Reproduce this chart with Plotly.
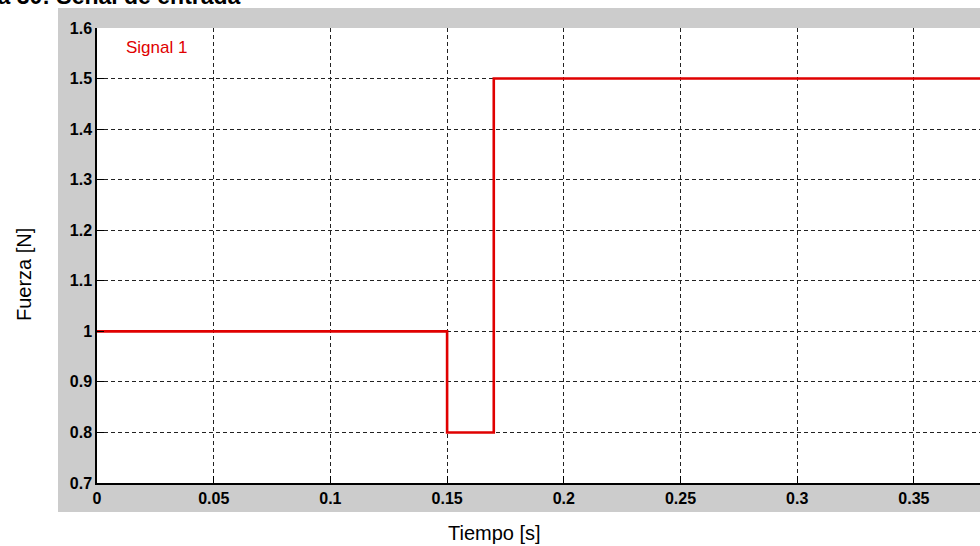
import plotly.graph_objects as go

# Data
tiempo = [0.0, 0.15, 0.17, 0.40]
fuerza = [1.0, 0.8, 1.5, 1.5]
serie_nombre = "Signal 1"
x_ticks = [0, 0.05, 0.1, 0.15, 0.2, 0.25, 0.3, 0.35]
y_ticks = [0.7, 0.8, 0.9, 1.0, 1.1, 1.2, 1.3, 1.4, 1.5, 1.6]

W, H = 980, 546
# plot area in screen pixels
SL, ST, SB, SR = 97, 28, 483, 980
L, T, B, R = SL, ST, H - SB, W - SR
PW = SR - SL
PH = SB - ST

def px_x(p):
    return (p - SL) / PW

def px_y(p):
    return (SB - p) / PH

FONT = "Liberation Sans, Arial, sans-serif"

fig = go.Figure()
fig.add_trace(go.Scatter(
    x=tiempo, y=fuerza, mode="lines", line_shape="hv",
    line=dict(color="#e00000", width=2.6), name=serie_nombre, showlegend=False,
))

axis_common = dict(
    showgrid=True, gridcolor="#222222", gridwidth=1, griddash="4px,3px",
    showline=True, linecolor="#000000", linewidth=1.5,
    ticks="inside", ticklen=7, tickcolor="#000000", tickwidth=1,
    tickfont=dict(family=FONT, size=16, color="#000000", weight="bold"),
    zeroline=False,
)

fig.update_layout(
    width=W, height=H,
    margin=dict(l=L, r=R, t=T, b=B),
    paper_bgcolor="#ffffff", plot_bgcolor="#ffffff",
    xaxis=dict(range=[0, PW / 116.7 * 0.05], tickvals=x_ticks,
               ticktext=[f"{v:g}" for v in x_ticks], **axis_common),
    yaxis=dict(range=[0.7, 1.6], tickvals=y_ticks,
               ticktext=[f"{v:g}" for v in y_ticks], **axis_common),
    shapes=[
        dict(type="rect", xref="paper", yref="paper", layer="below",
             x0=px_x(58), x1=1.05, y0=px_y(512), y1=px_y(8),
             fillcolor="#cccccc", line=dict(width=0)),
        dict(type="rect", xref="paper", yref="paper", layer="below",
             x0=0, x1=1.05, y0=0, y1=1,
             fillcolor="#ffffff", line=dict(width=0)),
    ],
    annotations=[
        dict(text="Figura 30: Señal de entrada", xref="paper", yref="paper",
             x=px_x(243), y=px_y(-4), xanchor="right", yanchor="middle",
             showarrow=False, font=dict(family=FONT, size=23, color="#000000", weight="bold")),
        dict(text=serie_nombre, xref="paper", yref="paper",
             x=px_x(124), y=px_y(47.5), xanchor="left", yanchor="middle",
             showarrow=False, font=dict(family=FONT, size=17, color="#e00000")),
        dict(text="Tiempo [s]", xref="paper", yref="paper",
             x=px_x(494), y=px_y(533), xanchor="center", yanchor="middle",
             showarrow=False, font=dict(family=FONT, size=20, color="#000000")),
        dict(text="Fuerza [N]", xref="paper", yref="paper",
             x=px_x(24), y=px_y(275), xanchor="center", yanchor="middle", textangle=-90,
             showarrow=False, font=dict(family=FONT, size=20, color="#000000")),
    ],
)

fig.write_html("out.html", config={"displayModeBar": False},
               post_script="document.body.style.margin='0px';")
